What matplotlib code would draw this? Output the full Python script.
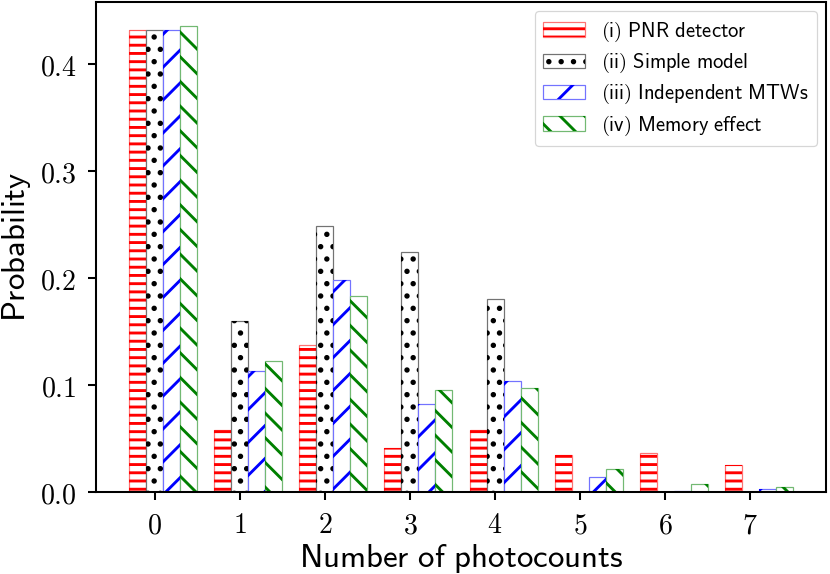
import numpy as np
import matplotlib
matplotlib.use("Agg")
import matplotlib.pyplot as plt
from matplotlib.ticker import FuncFormatter
from matplotlib.legend_handler import HandlerTuple

counts = [0, 1, 2, 3, 4, 5, 6, 7]
pnr = [0.432, 0.058, 0.137, 0.041, 0.058, 0.035, 0.036, 0.025]
simple = [0.432, 0.160, 0.249, 0.224, 0.180, 0.0, 0.0, 0.0]
indep = [0.432, 0.113, 0.198, 0.082, 0.104, 0.014, 0.001, 0.003]
memory = [0.436, 0.122, 0.183, 0.0955, 0.097, 0.0215, 0.0078, 0.0049]

labels = [r"$\mathsf{(i)\ PNR\ detector}$",
          r"$\mathsf{(ii)\ Simple\ model}$",
          r"$\mathsf{(iii)\ Independent\ MTWs}$",
          r"$\mathsf{(iv)\ Memory\ effect}$"]
colors = ["red", "black", "blue", "green"]
hatches = ["------", "....", "///", "\\\\\\\\"]

plt.rcParams["mathtext.fontset"] = "cm"
plt.rcParams["hatch.linewidth"] = 0.7

dpi = 296
fig = plt.figure(figsize=(830 / dpi, 574 / dpi), dpi=dpi)
ax = fig.add_axes([96 / 830, 1 - 492 / 574, 730 / 830, 490 / 574])

x = np.array(counts)
w = 0.2
handles = []
for i, vals in enumerate([pnr, simple, indep, memory]):
    pos = x + (i - 1) * w
    b1 = ax.bar(pos, vals, w, color="white", edgecolor=colors[i],
                hatch=hatches[i], linewidth=0)
    b2 = ax.bar(pos, vals, w, fill=False, edgecolor=colors[i],
                alpha=0.55, linewidth=0.3)
    handles.append((b1, b2))

ax.set_ylim(0, 0.458)
ax.set_xticks(counts)
ax.set_yticks([0.0, 0.1, 0.2, 0.3, 0.4])
ax.xaxis.set_major_formatter(FuncFormatter(lambda v, p: r"$%d$" % v))
ax.yaxis.set_major_formatter(FuncFormatter(lambda v, p: r"$%.1f$" % v))
ax.tick_params(labelsize=6.8, length=2, width=0.5, pad=2.7)
for s in ax.spines.values():
    s.set_linewidth(0.5)

ax.set_xlabel(r"$\mathsf{Number\ of\ photocounts}$", fontsize=8, labelpad=0.6)
ax.set_ylabel(r"$\mathsf{Probability}$", fontsize=8, labelpad=1.6)

leg = ax.legend(handles, labels, handler_map={tuple: HandlerTuple(ndivide=1)},
                loc="upper right", fontsize=5, labelspacing=0.35,
                borderaxespad=0.45, frameon=True)
leg.get_frame().set_linewidth(0.3)

fig.savefig("out.png", dpi=dpi)
